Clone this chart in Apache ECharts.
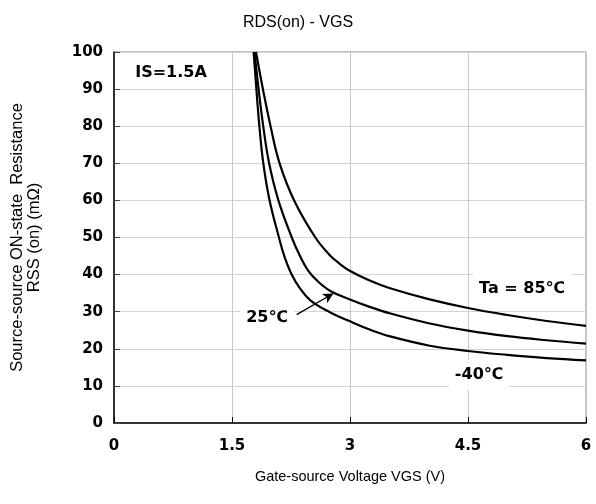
<!DOCTYPE html>
<html>
<head>
<meta charset="utf-8">
<script src="https://cdn.jsdelivr.net/npm/echarts@6/dist/echarts.min.js"></script>
<style>html,body{margin:0;padding:0;background:#fff}#c{width:596px;height:504px}</style>
</head>
<body>
<div id="c"></div>
<script>
var chartTitle = 'RDS(on) - VGS';
var xName = 'Gate-source Voltage VGS (V)';
var yName = 'Source-source ON-state  Resistance\nRSS (on) (mΩ)';
var xTicks = [0, 1.5, 3, 4.5, 6];
var yTicks = [0, 10, 20, 30, 40, 50, 60, 70, 80, 90, 100];

var vgsM40 = [1.775, 1.81, 1.848, 1.898, 1.978, 2.097, 2.165, 2.259, 2.36, 2.5, 2.75, 3.0, 3.25, 3.5, 4.0, 4.5, 5.0, 5.5, 6.0];
var rM40   = [100, 90, 80, 70, 60, 50, 45, 40, 36.4, 33.0, 29.8, 27.4, 25.2, 23.4, 20.9, 19.4, 18.35, 17.5, 16.9];
var vgs25  = [1.786, 1.838, 1.897, 1.972, 2.09, 2.26, 2.36, 2.47, 2.6, 2.75, 3.0, 3.25, 3.5, 4.0, 4.5, 5.0, 5.5, 6.0];
var r25    = [100, 90, 80, 70, 60, 50, 45.2, 41.0, 38.0, 35.6, 33.3, 31.3, 29.6, 26.9, 24.9, 23.4, 22.3, 21.4];
var vgs85  = [1.805, 1.893, 1.99, 2.105, 2.29, 2.56, 2.74, 2.87, 2.99, 3.25, 3.5, 4.0, 4.5, 5.0, 5.5, 6.0];
var r85    = [100, 90, 80, 70, 60, 50, 45.3, 42.9, 41.1, 38.4, 36.4, 33.4, 31.0, 29.1, 27.5, 26.2];

var arrowFrom = [2.322, 29.2];
var arrowTo = [2.787, 34.9];

function pairs(xs, ys){ return xs.map(function(x,i){ return [x, ys[i]]; }); }

var chart = echarts.init(document.getElementById('c'));
var lineStyle = {color:'#000', width:2.2};
function mkSeries(name, xs, ys){
  return {name:name, type:'line', data:pairs(xs, ys), showSymbol:false, smooth:0.4,
    lineStyle:lineStyle, itemStyle:{color:'#000'}, animation:false, clip:true};
}
var s25 = mkSeries('25', vgs25, r25);
s25.markLine = {silent:true, animation:false, symbol:['none','arrow'], symbolSize:[8,10],
  lineStyle:{color:'#000', width:1.3, type:'solid'}, label:{show:false},
  data:[[{coord:arrowFrom},{coord:arrowTo}]]};

var boldFont = 'bold 16px "DejaVu Sans", sans-serif';
function lbl(text, x, y, bg){
  return {type:'text', x:x, y:y, z:100, style:{text:text, fill:'#000', font:boldFont, align:'center', verticalAlign:'middle',
    backgroundColor: bg ? '#fff' : 'transparent', padding: bg ? [7,6,7,6] : 0}};
}

chart.setOption({
  animation:false,
  backgroundColor:'#fff',
  title:{text:chartTitle, left:'center', top:10, textStyle:{fontSize:16, fontWeight:'normal', color:'#000', fontFamily:'"Liberation Sans", Arial, sans-serif'}},
  grid:{left:114, right:10, top:52, bottom:81, show:true, borderColor:'#888', borderWidth:1, backgroundColor:'transparent',
    containLabel:false, outerBoundsMode:'none'},
  xAxis:{type:'value', min:0, max:6, interval:1.5,
    axisLine:{show:true, lineStyle:{color:'#000', width:1.5}},
    axisTick:{show:true, inside:true, length:6, lineStyle:{color:'#000'}},
    splitLine:{show:true, lineStyle:{color:'#c8c8c8', width:1}},
    axisLabel:{fontSize:15, fontWeight:'bold', color:'#000', margin:16, fontFamily:'"DejaVu Sans", sans-serif',
      formatter:function(v){ return xTicks.indexOf(v) >= 0 ? String(v) : ''; }},
    name:xName, nameLocation:'middle', nameGap:46,
    nameTextStyle:{fontSize:14.5, color:'#000', fontFamily:'"Liberation Sans", Arial, sans-serif'}},
  yAxis:{type:'value', min:0, max:100, interval:10,
    axisLine:{show:true, lineStyle:{color:'#000', width:1.5}},
    axisTick:{show:true, inside:true, length:6, lineStyle:{color:'#444'}},
    splitLine:{show:true, lineStyle:{color:'#d4d4d4', width:1}},
    axisLabel:{fontSize:15, fontWeight:'bold', color:'#000', margin:11, fontFamily:'"DejaVu Sans", sans-serif',
      formatter:function(v){ return yTicks.indexOf(v) >= 0 ? String(v) : ''; }},
    name:yName, nameLocation:'middle', nameGap:71, nameRotate:90,
    nameTextStyle:{fontSize:16.5, color:'#000', lineHeight:17, fontFamily:'"Liberation Sans", Arial, sans-serif'}},
  series:[
    mkSeries('-40', vgsM40, rM40),
    s25,
    mkSeries('85', vgs85, r85)
  ],
  graphic:[
    lbl('IS=1.5A', 171, 73, false),
    lbl('Ta = 85℃', 522, 289, true),
    lbl('25℃', 267, 318, true),
    lbl('-40℃', 479, 375, true)
  ]
});
</script>
</body>
</html>
